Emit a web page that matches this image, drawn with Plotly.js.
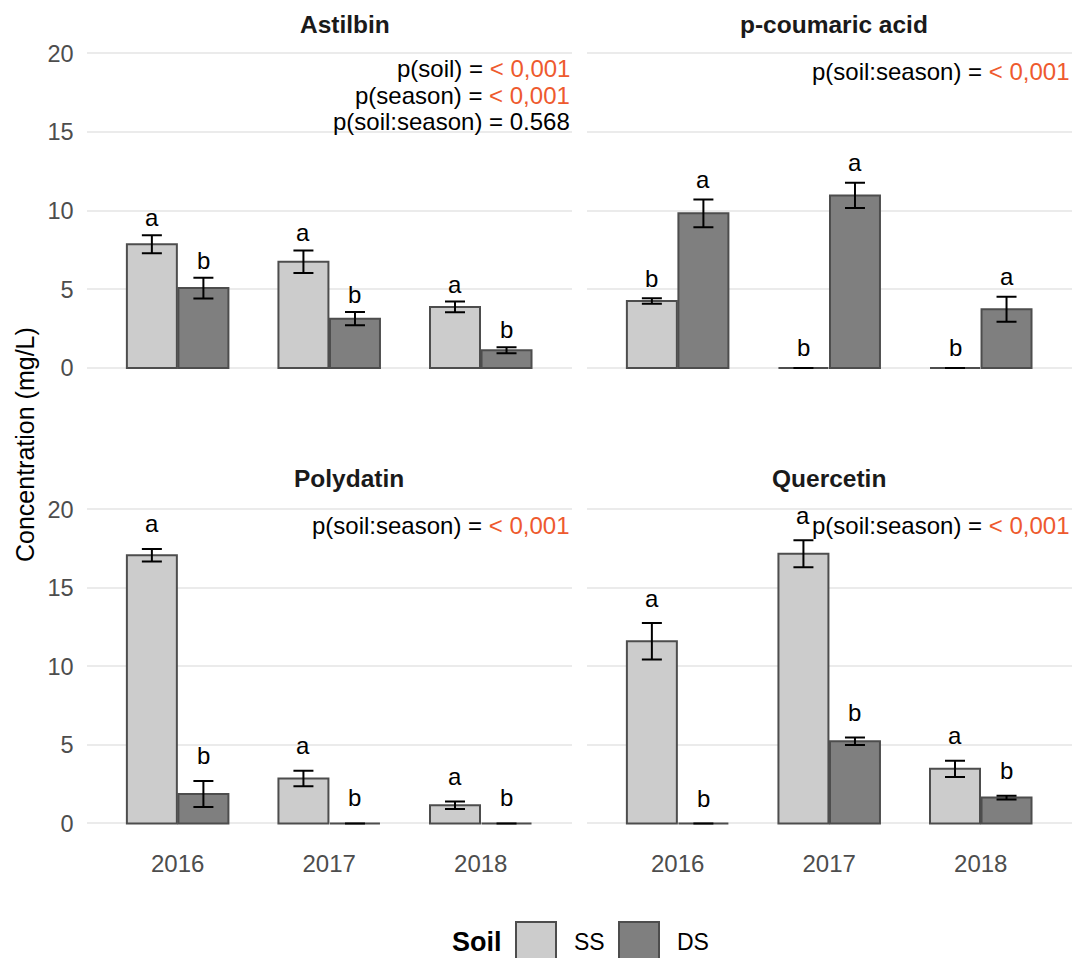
<!DOCTYPE html>
<html><head><meta charset="utf-8">
<script src="https://cdn.plot.ly/plotly-3.0.1.min.js"></script>
<style>html,body{margin:0;padding:0;background:#fff}</style>
</head><body>
<div id="chart" style="width:1079px;height:958px"></div>
<script>
// ---- data ----
const years = ['2016', '2017', '2018'];
const panelTitles = ['Astilbin', 'p-coumaric acid', 'Polydatin', 'Quercetin'];
const soilNames = ['SS', 'DS'];
const yTicks = [0, 5, 10, 15, 20];

const astilbinSS = [7.86, 6.75, 3.88];
const astilbinSSerr = [0.57, 0.72, 0.34];
const astilbinDS = [5.08, 3.13, 1.12];
const astilbinDSerr = [0.66, 0.42, 0.19];
const astilbinSSletters = ['a', 'a', 'a'];
const astilbinDSletters = ['b', 'b', 'b'];
const astilbinPNames = ['p(soil)', 'p(season)', 'p(soil:season)'];
const astilbinPValues = ['< 0,001', '< 0,001', '0.568'];

const coumaricSS = [4.26, 0, 0];
const coumaricSSerr = [0.17, 0, 0];
const coumaricDS = [9.83, 10.97, 3.73];
const coumaricDSerr = [0.88, 0.80, 0.80];
const coumaricSSletters = ['b', 'b', 'b'];
const coumaricDSletters = ['a', 'a', 'a'];
const coumaricPNames = ['p(soil:season)'];
const coumaricPValues = ['< 0,001'];

const polydatinSS = [17.07, 2.86, 1.16];
const polydatinSSerr = [0.40, 0.49, 0.24];
const polydatinDS = [1.88, 0, 0];
const polydatinDSerr = [0.83, 0, 0];
const polydatinSSletters = ['a', 'a', 'a'];
const polydatinDSletters = ['b', 'b', 'b'];
const polydatinPNames = ['p(soil:season)'];
const polydatinPValues = ['< 0,001'];

const quercetinSS = [11.60, 17.17, 3.48];
const quercetinSSerr = [1.16, 0.86, 0.52];
const quercetinDS = [0, 5.24, 1.65];
const quercetinDSerr = [0, 0.24, 0.12];
const quercetinSSletters = ['a', 'a', 'a'];
const quercetinDSletters = ['b', 'b', 'b'];
const quercetinPNames = ['p(soil:season)'];
const quercetinPValues = ['< 0,001'];

// ---- build ----
const W = 1079, H = 958;
const FONT = 'Liberation Sans, Arial, Helvetica, sans-serif';
const SS_FILL = '#CCCCCC', DS_FILL = '#7F7F7F', OUTLINE = '#4D4D4D';
const SIG = '#EE5A2E';

const panels = [
  {ss: astilbinSS, sse: astilbinSSerr, ds: astilbinDS, dse: astilbinDSerr, sl: astilbinSSletters, dl: astilbinDSletters, pn: astilbinPNames, pv: astilbinPValues, pshift: -15, lshift: 2, tx: 345},
  {ss: coumaricSS, sse: coumaricSSerr, ds: coumaricDS, dse: coumaricDSerr, sl: coumaricSSletters, dl: coumaricDSletters, pn: coumaricPNames, pv: coumaricPValues, pshift: -18, lshift: 4.5, tx: 834},
  {ss: polydatinSS, sse: polydatinSSerr, ds: polydatinDS, dse: polydatinDSerr, sl: polydatinSSletters, dl: polydatinDSletters, pn: polydatinPNames, pv: polydatinPValues, pshift: -16, lshift: 10, tx: 349},
  {ss: quercetinSS, sse: quercetinSSerr, ds: quercetinDS, dse: quercetinDSerr, sl: quercetinSSletters, dl: quercetinDSletters, pn: quercetinPNames, pv: quercetinPValues, pshift: -16, lshift: 9.5, tx: 829}
];

const px = v => v / W;
const py = v => 1 - v / H;
const xDomains = [[px(86.7), px(571.7)], [px(586.7), px(1071.7)]];
const yDomains = [[py(383.7), py(37.6)], [py(839.2), py(493.6)]];
const BARGAP = 0.32;
const half = (1 - BARGAP) / 4;

const traces = [];
const annotations = [];
const layout = {
  width: W, height: H,
  margin: {l: 0, r: 0, t: 0, b: 0},
  paper_bgcolor: '#ffffff', plot_bgcolor: '#ffffff',
  barmode: 'group', bargap: BARGAP, bargroupgap: 0.03,
  showlegend: false,
  font: {family: FONT, color: '#000'},
  annotations: annotations,
  shapes: []
};

panels.forEach((p, i) => {
  const suf = i === 0 ? '' : String(i + 1);
  const col = i % 2, row = Math.floor(i / 2);
  const xa = 'x' + suf, ya = 'y' + suf;
  const errStyle = {type: 'data', visible: true, color: '#000', thickness: 2, width: 10};
  traces.push({
    type: 'bar', name: soilNames[0], x: years, y: p.ss, xaxis: xa, yaxis: ya,
    marker: {color: SS_FILL, line: {color: OUTLINE, width: 2}},
    error_y: Object.assign({array: p.sse}, errStyle), hoverinfo: 'y'
  });
  traces.push({
    type: 'bar', name: soilNames[1], x: years, y: p.ds, xaxis: xa, yaxis: ya,
    marker: {color: DS_FILL, line: {color: OUTLINE, width: 2}},
    error_y: Object.assign({array: p.dse}, errStyle), hoverinfo: 'y'
  });
  layout['xaxis' + suf] = {
    domain: xDomains[col], anchor: ya, type: 'category', range: [-0.6, 2.6],
    showgrid: false, zeroline: false, showline: false, ticks: '',
    showticklabels: row === 1, ticklabelstandoff: 8,
    tickfont: {size: 24, color: '#4D4D4D', family: FONT}
  };
  layout['yaxis' + suf] = {
    domain: yDomains[row], anchor: xa, range: [-1, 21],
    tickvals: yTicks, showgrid: true, gridcolor: '#EBEBEB', gridwidth: 2,
    zeroline: false, showline: false, ticks: '',
    showticklabels: col === 0, ticklabelstandoff: 12,
    tickfont: {size: 23.5, color: '#4D4D4D', family: FONT}
  };
  // significance letters
  years.forEach((yr, j) => {
    annotations.push({xref: xa, yref: ya, x: j - half, y: p.ss[j] + p.sse[j], text: p.sl[j],
      showarrow: false, yanchor: 'bottom', yshift: p.lshift, font: {size: 24, color: '#000'}});
    annotations.push({xref: xa, yref: ya, x: j + half, y: p.ds[j] + p.dse[j], text: p.dl[j],
      showarrow: false, yanchor: 'bottom', yshift: p.lshift, font: {size: 24, color: '#000'}});
  });
  // p-values
  p.pn.forEach((nm, k) => {
    const v = p.pv[k];
    const vtxt = v.startsWith('<') ? '<span style="color:' + SIG + '">' + v.replace('<', '&lt;') + '</span>' : v;
    annotations.push({xref: xa + ' domain', yref: ya, x: 1, y: 20, xanchor: 'right', yanchor: 'middle',
      yshift: p.pshift - k * 26.7, text: nm + ' = ' + vtxt, showarrow: false,
      font: {size: 24, color: '#000'}});
  });
  // strip title
  annotations.push({xref: 'paper', yref: 'paper', x: px(p.tx), y: py(row === 0 ? 24 : 478),
    xanchor: 'center', yanchor: 'middle', text: '<b>' + panelTitles[i] + '</b>', showarrow: false,
    font: {size: 24.5, color: '#1A1A1A'}});
});

// y-axis title
annotations.push({xref: 'paper', yref: 'paper', x: px(25), y: py(445), textangle: -90,
  text: 'Concentration (mg/L)', showarrow: false, xanchor: 'center', yanchor: 'middle',
  font: {size: 25, color: '#000'}});

// legend (manual keys)
annotations.push({xref: 'paper', yref: 'paper', x: px(476.5), y: py(942), text: '<b>Soil</b>',
  showarrow: false, xanchor: 'center', yanchor: 'middle', font: {size: 27, color: '#000'}});
const keyX = [516, 619];
const keyFill = [SS_FILL, DS_FILL];
soilNames.forEach((nm, k) => {
  layout.shapes.push({type: 'rect', xref: 'paper', yref: 'paper',
    x0: px(keyX[k]), x1: px(keyX[k] + 40), y0: py(966), y1: py(922),
    fillcolor: keyFill[k], line: {color: OUTLINE, width: 2}});
  annotations.push({xref: 'paper', yref: 'paper', x: px(keyX[k] + 56), y: py(942), text: nm,
    showarrow: false, xanchor: 'left', yanchor: 'middle', font: {size: 23, color: '#000'}});
});

Plotly.newPlot('chart', traces, layout, {displayModeBar: false, staticPlot: true});
</script>
</body></html>
